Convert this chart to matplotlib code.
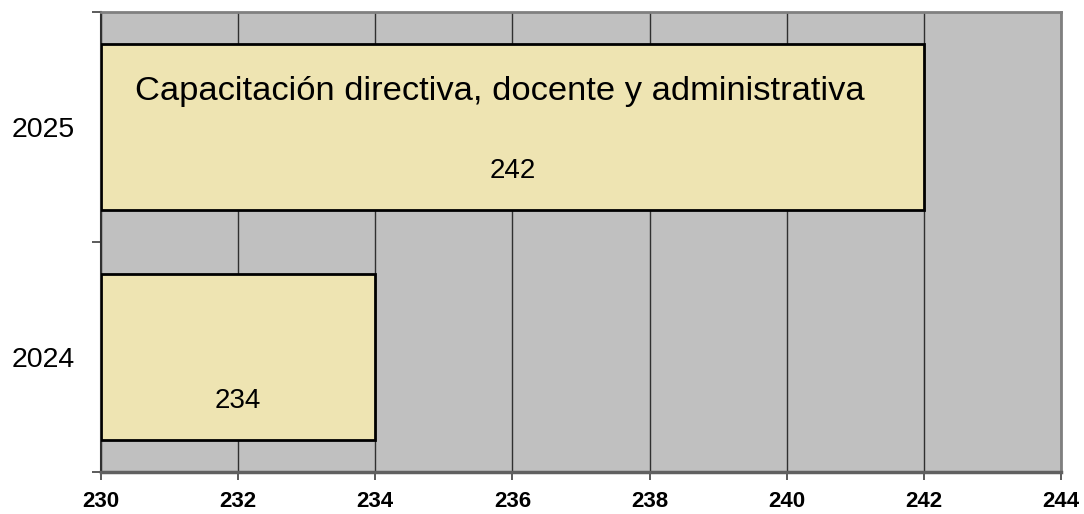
"""Horizontal bar chart: capacitación directiva, docente y administrativa."""

import matplotlib
matplotlib.use("Agg")
import matplotlib.pyplot as plt
from matplotlib import font_manager

years = ["2024", "2025"]
values = [234, 242]
x_ticks = [230, 232, 234, 236, 238, 240, 242, 244]
title = "Capacitación directiva, docente y administrativa"

names = {f.name for f in font_manager.fontManager.ttflist}
narrow = "Liberation Sans Narrow" if "Liberation Sans Narrow" in names else "Liberation Sans"

fig = plt.figure(figsize=(10.84, 5.14), dpi=100)
ax = fig.add_axes([0.0932, 0.0817, 0.8856, 0.895])
ax.set_facecolor("#c0c0c0")

pos = list(range(len(years)))
ax.barh(pos, [v - 230 for v in values], left=230, height=0.72,
        color="#eee4b2", edgecolor="black", linewidth=2, zorder=3)

for p, v in zip(pos, values):
    ax.text((230 + v) / 2, p - 0.19, str(v), ha="center", va="center",
            fontsize=20, family="Liberation Sans", zorder=4)
ax.text(230.5, pos[-1] + 0.155, title, ha="left", va="center",
        fontsize=24.8, family="Liberation Sans", zorder=4)

ax.set_xlim(230, 244)
ax.set_ylim(-0.5, 1.5)
ax.set_xticks(x_ticks)
ax.set_xticklabels([str(t) for t in x_ticks], fontsize=16, fontweight="bold",
                   family=narrow)
ax.set_yticks([-0.5, 0.5, 1.5])
ax.set_yticklabels([])
ax.set_yticks(pos, minor=True)
ax.set_yticklabels(years, minor=True, fontsize=20.5, family="Liberation Sans")
ax.tick_params(axis="y", which="minor", length=0, pad=19)
ax.tick_params(axis="y", which="major", length=6.5, width=1.2, color="#404040")
ax.tick_params(axis="x", length=6, width=1.2, color="#404040", pad=8)

ax.grid(axis="x", color="#303030", linewidth=1, zorder=1)
ax.set_axisbelow(True)
for side in ["top", "right"]:
    ax.spines[side].set_color("#808080")
    ax.spines[side].set_linewidth(2)
ax.spines["left"].set_color("#303030")
ax.spines["left"].set_linewidth(1.5)
ax.spines["bottom"].set_color("#606060")
ax.spines["bottom"].set_linewidth(2.5)

fig.savefig("out.png", dpi=100)
